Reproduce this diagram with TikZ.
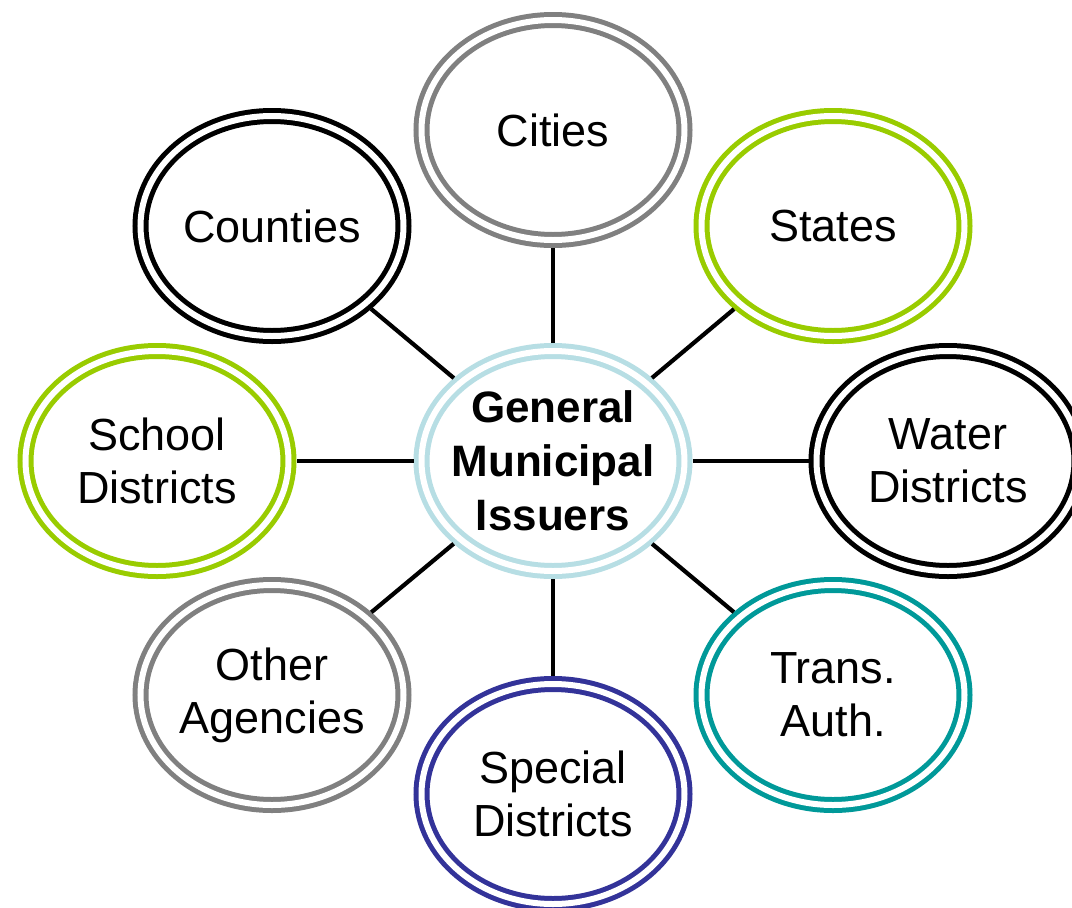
\documentclass[tikz,border=0pt]{standalone}
\usepackage{fontspec}
\setmainfont{Liberation Sans}
\usetikzlibrary{shapes.geometric}
\definecolor{hubblue}{RGB}{183,222,228}
\definecolor{limegreen}{RGB}{153,204,0}
\definecolor{midgray}{RGB}{128,128,128}
\definecolor{tealline}{RGB}{0,153,153}
\definecolor{indigoline}{RGB}{51,51,153}
\begin{document}
\begin{tikzpicture}[x=1pt,y=-1pt,
  issuer/.style={ellipse, draw=#1, line width=5pt, double=white,
    double distance=6pt, minimum width=263pt, minimum height=220pt,
    inner sep=0pt, outer sep=0pt, align=center,
    font=\fontsize{45}{53}\selectfont},
  hubtitle/.style={align=center, inner sep=0pt,
    font=\fontsize{44}{54}\selectfont\bfseries},
  link/.style={line width=4.2pt, shorten <=8pt, shorten >=8pt}]
\clip (0,0) rectangle (1072,908);
\fill[white] (0,0) rectangle (1072,908);

% hub ring and its title
\node[issuer=hubblue] (hub) at (553,461) {};
\node[hubtitle] (hubtext) at (hub.center) {General\\Municipal\\Issuers};

% surrounding issuer types
\node[issuer=midgray]    (cities)   at (553,130) {Cities};
\node[issuer=black]      (counties) at (272,226) {Counties};
\node[issuer=limegreen]  (states)   at (833,226) {States};
\node[issuer=limegreen]  (school)   at (157,461) {School\\Districts};
\node[issuer=black]      (water)    at (948,461) {Water\\Districts};
\node[issuer=midgray]    (other)    at (272,695) {Other\\Agencies};
\node[issuer=indigoline] (special)  at (553,794) {Special\\Districts};
\node[issuer=tealline]   (trans)    at (833,695) {Trans.\\Auth.};

% spokes
\foreach \n in {cities,counties,states,school,water,other,special,trans}
  \draw[link] (hub) -- (\n);
\end{tikzpicture}
\end{document}
